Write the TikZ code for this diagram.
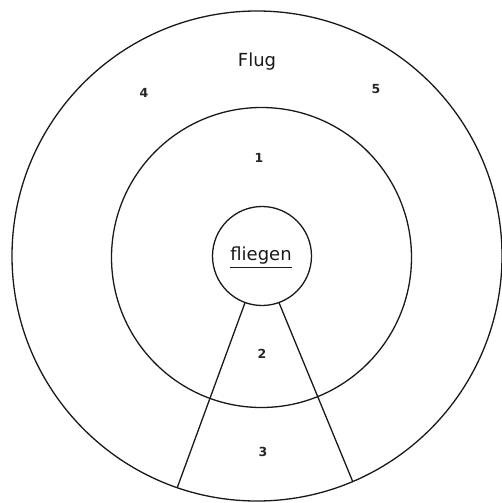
\documentclass[tikz,border=0pt]{standalone}
\usepackage{fontspec}
\setmainfont{DejaVu Sans}
\begin{document}
\begin{tikzpicture}[x=1pt,y=-1pt,
  ring/.style={draw=black!90,line width=1.3pt,circle,inner sep=0pt,outer sep=0pt},
  lbl/.style={font=\fontsize{12.5}{14}\selectfont\bfseries,text=black!85,inner sep=0pt},
  edge/.style={draw=black!90,line width=1.3pt}]
\useasboundingbox (0,0) rectangle (501,503);
\node[ring,minimum size=490pt] (outer) at (257,256) {};
\node[ring,minimum size=300pt] (middle) at (261.5,257.5) {};
\node[ring,minimum size=99pt] (small) at (262,256) {};
\node[inner sep=0pt,text=black!90,font=\fontsize{18}{20}\selectfont] (fl) at (261,256) {fliegen};
\draw[edge,line width=1.1pt] ([yshift=-2.5pt]fl.south west) -- ([yshift=-2.5pt]fl.south east);
\draw[edge] (small.-110) -- (outer.-109.5);
\draw[edge] (small.-70) -- (outer.-67.5);
\node[inner sep=0pt,text=black!90,font=\fontsize{18}{20}\selectfont] (flug) at (257,62) {Flug};
\node[lbl] (n4) at (144,93) {4};
\node[lbl] (n5) at (376,89) {5};
\node[lbl] (n1) at (259,158) {1};
\node[lbl] (n2) at (262,354) {2};
\node[lbl] (n3) at (263,452) {3};
\end{tikzpicture}
\end{document}
